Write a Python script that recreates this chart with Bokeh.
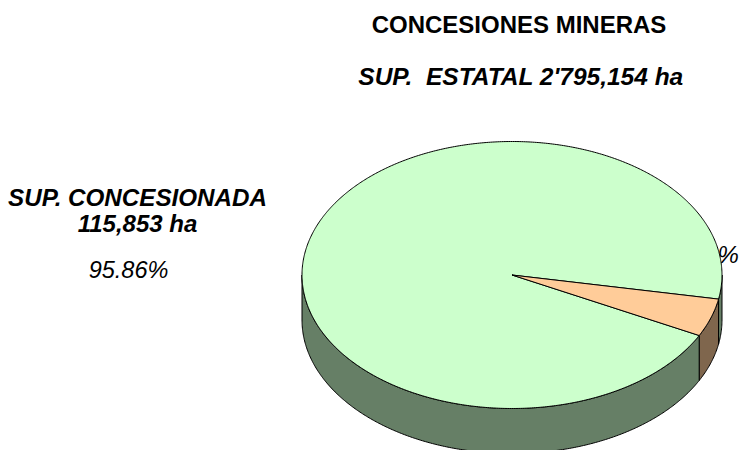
import numpy as np
from bokeh.plotting import figure
from bokeh.models import Range1d
from bokeh.core.properties import value
from bokeh.embed import file_html
from bokeh.resources import INLINE

# Values
slice_names = ["SUP. CONCESIONADA", "Resto"]
slice_shares = [95.4, 4.6]          # share of the pie as drawn
slice_colors = ["#ccffcc", "#ffcc99"]
wall_colors = ["#667f66", "#7f664d"]

title_text = "CONCESIONES MINERAS"
subtitle_text = "SUP.\u00a0 ESTATAL 2'795,154 ha"
label_lines = ["SUP. CONCESIONADA", "115,853 ha"]
pct_main = "95.86%"
pct_other = "%"

W, H = 739, 450
CX, CY, RX, RY, DEPTH = 511.5, 274.5, 210.0, 133.5, 45.0
START_DEG = 10.4   # where the small slice begins, clockwise from the right


def arc(a0, a1):
    t = np.radians(np.linspace(a0, a1, max(3, int(abs(a1 - a0) * 2))))
    return CX + RX * np.cos(t), CY + RY * np.sin(t)


def top_patch(a0, a1):
    x, y = arc(a0, a1)
    return np.r_[CX, x], np.r_[CY, y]


def wall_patch(a0, a1):
    x, y = arc(a0, a1)
    return np.r_[x, x[::-1]], np.r_[y, y[::-1] + DEPTH]


small = slice_shares[1] * 3.6
a_small = (START_DEG, START_DEG + small)
a_big = (a_small[1], START_DEG + 360.0)

p = figure(width=W, height=H, output_backend="svg", toolbar_location=None,
           x_range=Range1d(0, W), y_range=Range1d(H, 0),
           min_border=0, outline_line_color=None, background_fill_color="white",
           border_fill_color="white")
p.axis.visible = False
p.grid.visible = False


def put(tx, ty, txt, size, style, align="center"):
    p.text([tx], [ty], text=[txt], text_font=value("Liberation Sans"), text_font_size=size,
           text_font_style=style, text_align=align, text_baseline="alphabetic", text_color="black")


# This label sits partly behind the pie, so it is drawn first
put(717, 254, pct_other, "24px", "italic", "left")

# Side wall (front half only)
walls = [((0, a_small[0]), wall_colors[0]), (a_small, wall_colors[1]), ((a_small[1], 180), wall_colors[0])]
for (a0, a1), c in walls:
    x, y = wall_patch(a0, a1)
    p.patch(x, y, fill_color=c, line_color="#000000", line_width=1)

# Top faces
x, y = top_patch(*a_big)
p.patch(x, y, fill_color=slice_colors[0], line_color="#000000", line_width=1)
x, y = top_patch(*a_small)
p.patch(x, y, fill_color=slice_colors[1], line_color="#000000", line_width=1)

put(518.5, 24, title_text, "24px", "bold")
put(520.5, 76, subtitle_text, "24.5px", "bold italic")
put(137, 197, label_lines[0], "24.2px", "bold italic")
put(137, 223, label_lines[1], "24px", "bold italic")
put(128, 269, pct_main, "23.5px", "italic")

open("out.html", "w").write(file_html(p, INLINE))
